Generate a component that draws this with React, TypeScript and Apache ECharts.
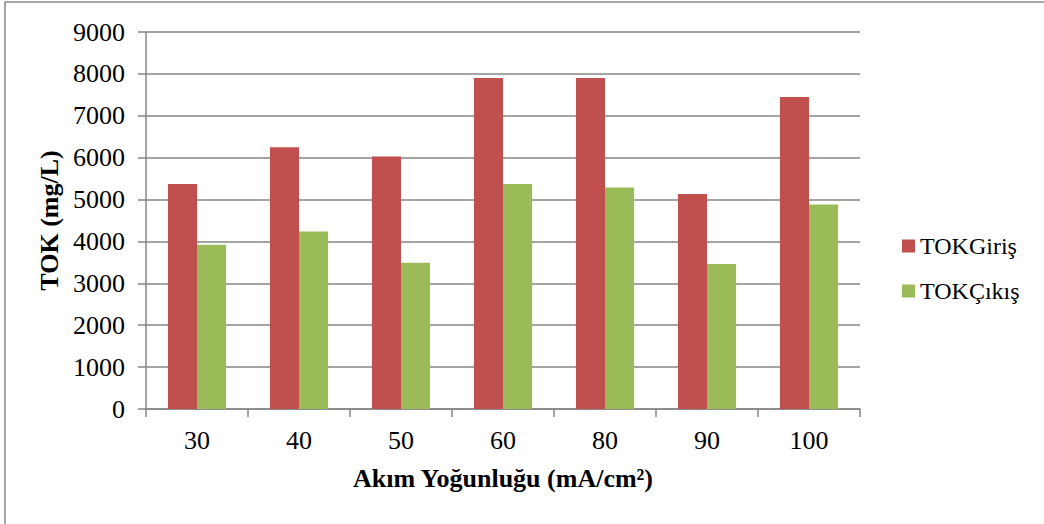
import React, { useEffect, useRef } from "react";
import * as echarts from "echarts";

const categories = ["30", "40", "50", "60", "80", "90", "100"];
const tokGiris = [5370, 6250, 6030, 7900, 7900, 5130, 7450];
const tokCikis = [3920, 4240, 3490, 5370, 5290, 3460, 4880];
const seriesNames = ["TOKGiriş", "TOKÇıkış"];
const xTitle = "Akım Yoğunluğu (mA/cm²)";
const yTitle = "TOK (mg/L)";

const FONT = "Liberation Serif, Times New Roman, serif";
const GRAY = "#868686";

export default function App() {
  const ref = useRef<HTMLDivElement>(null);
  useEffect(() => {
    if (!ref.current) return;
    const chart = echarts.init(ref.current, undefined, { renderer: "svg" });
    chart.setOption({
      animation: false,
      backgroundColor: "#ffffff",
      textStyle: { fontFamily: FONT },
      graphic: [
        {
          type: "rect",
          shape: { x: 5, y: 2, width: 1100, height: 600 },
          style: { fill: "none", stroke: "#8c8c8c", lineWidth: 1.5 },
          silent: true,
        },
      ],
      grid: { left: 146, top: 32, right: 184, bottom: 115, containLabel: false },
      legend: {
        orient: "vertical",
        left: 897,
        top: 229,
        itemWidth: 13,
        itemHeight: 13,
        itemGap: 21,
        icon: "rect",
        data: seriesNames,
        textStyle: { fontFamily: FONT, fontSize: 24, color: "#000" },
      },
      xAxis: {
        type: "category",
        data: categories,
        name: xTitle,
        nameLocation: "middle",
        nameGap: 56,
        nameTextStyle: { fontFamily: FONT, fontSize: 26, fontWeight: "bold", color: "#000" },
        axisLine: { lineStyle: { color: GRAY, width: 1.5 } },
        axisTick: { show: true, length: 8, alignWithLabel: false, lineStyle: { color: GRAY, width: 1.5 } },
        axisLabel: { fontFamily: FONT, fontSize: 26, color: "#000", margin: 18 },
      },
      yAxis: {
        type: "value",
        min: 0,
        max: 9000,
        interval: 1000,
        name: yTitle,
        nameLocation: "middle",
        nameRotate: 90,
        nameGap: 79,
        nameTextStyle: { fontFamily: FONT, fontSize: 26, fontWeight: "bold", color: "#000" },
        axisLine: { show: true, lineStyle: { color: GRAY, width: 1.5 } },
        axisTick: { show: true, length: 8, lineStyle: { color: GRAY, width: 1.5 } },
        axisLabel: {
          fontFamily: FONT,
          fontSize: 26,
          color: "#000",
          margin: 21,
          formatter: (v: number) => String(v),
        },
        splitLine: { show: true, lineStyle: { color: GRAY, width: 1.5 } },
      },
      series: [
        {
          name: seriesNames[0],
          type: "bar",
          data: tokGiris,
          barGap: "0%",
          barCategoryGap: "43%",
          itemStyle: { color: "#C0504D" },
        },
        {
          name: seriesNames[1],
          type: "bar",
          data: tokCikis,
          barGap: "0%",
          barCategoryGap: "43%",
          itemStyle: { color: "#9BBB59" },
        },
      ],
    });
    return () => chart.dispose();
  }, []);
  return (
    <div
      ref={ref}
      style={{ position: "fixed", left: 0, top: 0, width: 1044, height: 524 }}
    />
  );
}
